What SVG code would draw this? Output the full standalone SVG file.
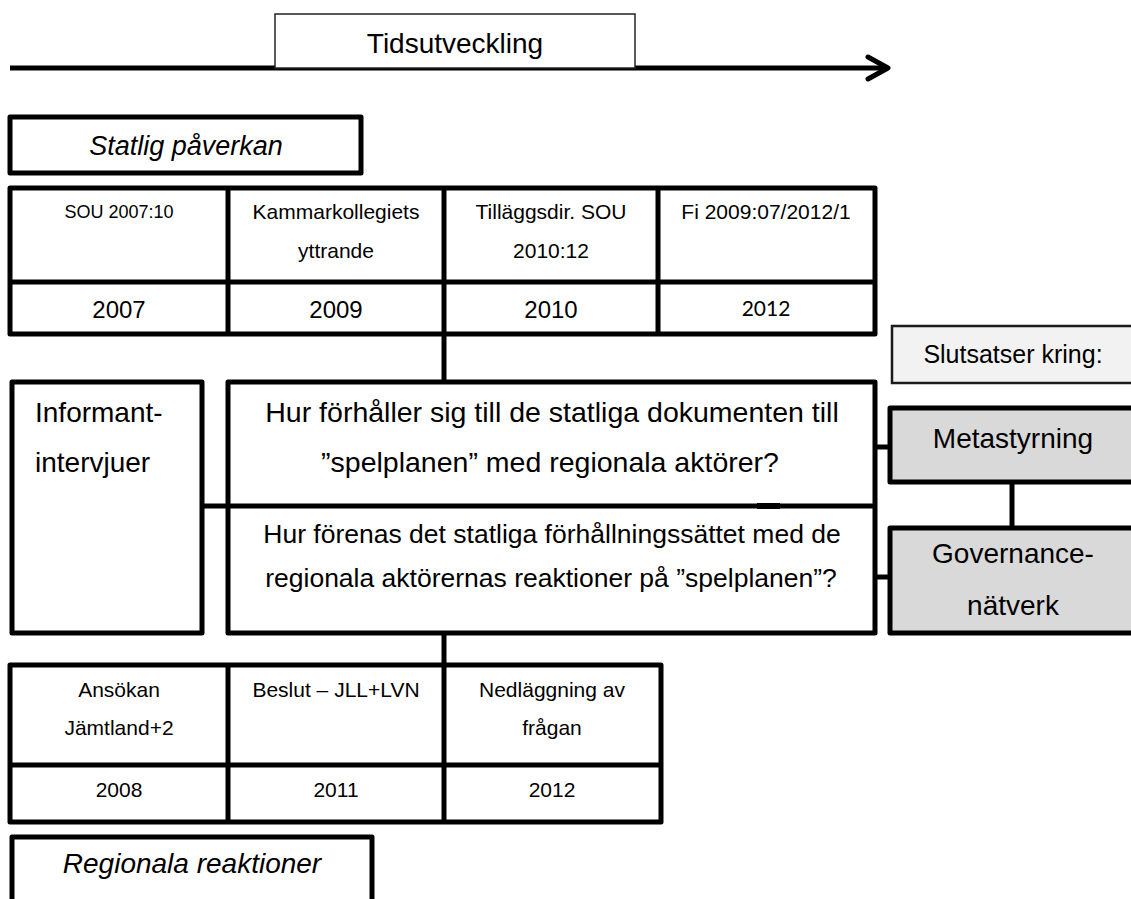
<svg xmlns="http://www.w3.org/2000/svg" width="1131" height="899" viewBox="0 0 1131 899">
<style>
text{font-family:"Liberation Sans",Arial,sans-serif;fill:#000}
.box{fill:#fff;stroke:#000;stroke-width:5;stroke-linejoin:round}
.ln{stroke:#000;stroke-width:5;fill:none}
.it{font-style:italic}
.m{text-anchor:middle}
.gray{fill:#d9d9d9;stroke:#000;stroke-width:5;stroke-linejoin:round}
</style>
<rect width="1131" height="899" fill="#fff"/>
<g id="connectors">
<line class="ln" x1="10" y1="68" x2="887" y2="68"/>
<polyline points="868,57 888,68 868,79" fill="none" stroke="#000" stroke-width="5" stroke-linecap="round" stroke-linejoin="round"/>
<line class="ln" x1="444" y1="334" x2="444" y2="382"/>
<line class="ln" x1="202" y1="506" x2="228" y2="506"/>
<line class="ln" x1="875" y1="447" x2="890" y2="447"/>
<line class="ln" x1="875" y1="577" x2="890" y2="577"/>
<line class="ln" x1="1012" y1="482" x2="1012" y2="528"/>
<line class="ln" x1="444" y1="633" x2="444" y2="665"/>
</g>
<g id="tidsutveckling">
<rect x="275" y="14" width="360" height="54" fill="#fff" stroke="#222" stroke-width="1.5"/>
<text class="m" x="455" y="53" font-size="28">Tidsutveckling</text>
</g>
<g id="statlig">
<rect class="box" x="10" y="117" width="351" height="56"/>
<text class="m it" x="186" y="155" font-size="27">Statlig påverkan</text>
</g>
<g id="top-table">
<rect class="box" x="10" y="188" width="865" height="146"/>
<line class="ln" x1="10" y1="282" x2="875" y2="282"/>
<line class="ln" x1="228" y1="188" x2="228" y2="334"/>
<line class="ln" x1="444" y1="188" x2="444" y2="334"/>
<line class="ln" x1="658" y1="188" x2="658" y2="334"/>
<text class="m" x="119" y="218" font-size="18">SOU 2007:10</text>
<text class="m" x="336" y="219" font-size="21">Kammarkollegiets</text>
<text class="m" x="336" y="258" font-size="21">yttrande</text>
<text class="m" x="551" y="219" font-size="21">Tilläggsdir. SOU</text>
<text class="m" x="551" y="258" font-size="21">2010:12</text>
<text class="m" x="766" y="219" font-size="21">Fi 2009:07/2012/1</text>
<text class="m" x="119" y="318" font-size="24">2007</text>
<text class="m" x="336" y="318" font-size="24">2009</text>
<text class="m" x="551" y="318" font-size="24">2010</text>
<text class="m" x="766" y="316" font-size="21" style="font-family:Lato,'Open Sans',sans-serif">2012</text>
</g>
<g id="informant">
<rect class="box" x="12" y="382" width="190" height="251"/>
<text x="35" y="422" font-size="28">Informant-</text>
<text x="35" y="472" font-size="28">intervjuer</text>
</g>
<g id="questions">
<rect class="box" x="228" y="382" width="647" height="251"/>
<line class="ln" x1="228" y1="506" x2="875" y2="506"/>
<rect x="757" y="503" width="23" height="6" fill="#000"/>
<text class="m" x="552" y="422" font-size="28.5">Hur förhåller sig till de statliga dokumenten till</text>
<text class="m" x="550" y="472" font-size="28.5">”spelplanen” med regionala aktörer?</text>
<text class="m" x="552" y="543" font-size="26.5">Hur förenas det statliga förhållningssättet med de</text>
<text class="m" x="551" y="587" font-size="26.5">regionala aktörernas reaktioner på ”spelplanen”?</text>
</g>
<g id="slutsatser">
<rect x="892" y="326" width="245" height="57" fill="#f2f2f2" stroke="#1a1a1a" stroke-width="2.5"/>
<text class="m" x="1013" y="363" font-size="25">Slutsatser kring:</text>
</g>
<g id="metastyrning">
<rect class="gray" x="890" y="408" width="247" height="74"/>
<text class="m" x="1013" y="448" font-size="28">Metastyrning</text>
</g>
<g id="governance">
<rect class="gray" x="890" y="528" width="247" height="105"/>
<text class="m" x="1013" y="563" font-size="28">Governance-</text>
<text class="m" x="1013" y="615" font-size="28">nätverk</text>
</g>
<g id="bottom-table">
<rect class="box" x="10" y="665" width="651" height="157"/>
<line class="ln" x1="10" y1="765" x2="661" y2="765"/>
<line class="ln" x1="228" y1="665" x2="228" y2="822"/>
<line class="ln" x1="444" y1="665" x2="444" y2="822"/>
<text class="m" x="119" y="697" font-size="21">Ansökan</text>
<text class="m" x="119" y="735" font-size="21">Jämtland+2</text>
<text class="m" x="336" y="697" font-size="21">Beslut – JLL+LVN</text>
<text class="m" x="552" y="697" font-size="21">Nedläggning av</text>
<text class="m" x="552" y="735" font-size="21">frågan</text>
<text class="m" x="119" y="797" font-size="21">2008</text>
<text class="m" x="336" y="797" font-size="21">2011</text>
<text class="m" x="552" y="797" font-size="21">2012</text>
</g>
<g id="regionala">
<rect class="box" x="12" y="837" width="360" height="80"/>
<text class="m it" x="192" y="873" font-size="28">Regionala reaktioner</text>
</g>
</svg>
